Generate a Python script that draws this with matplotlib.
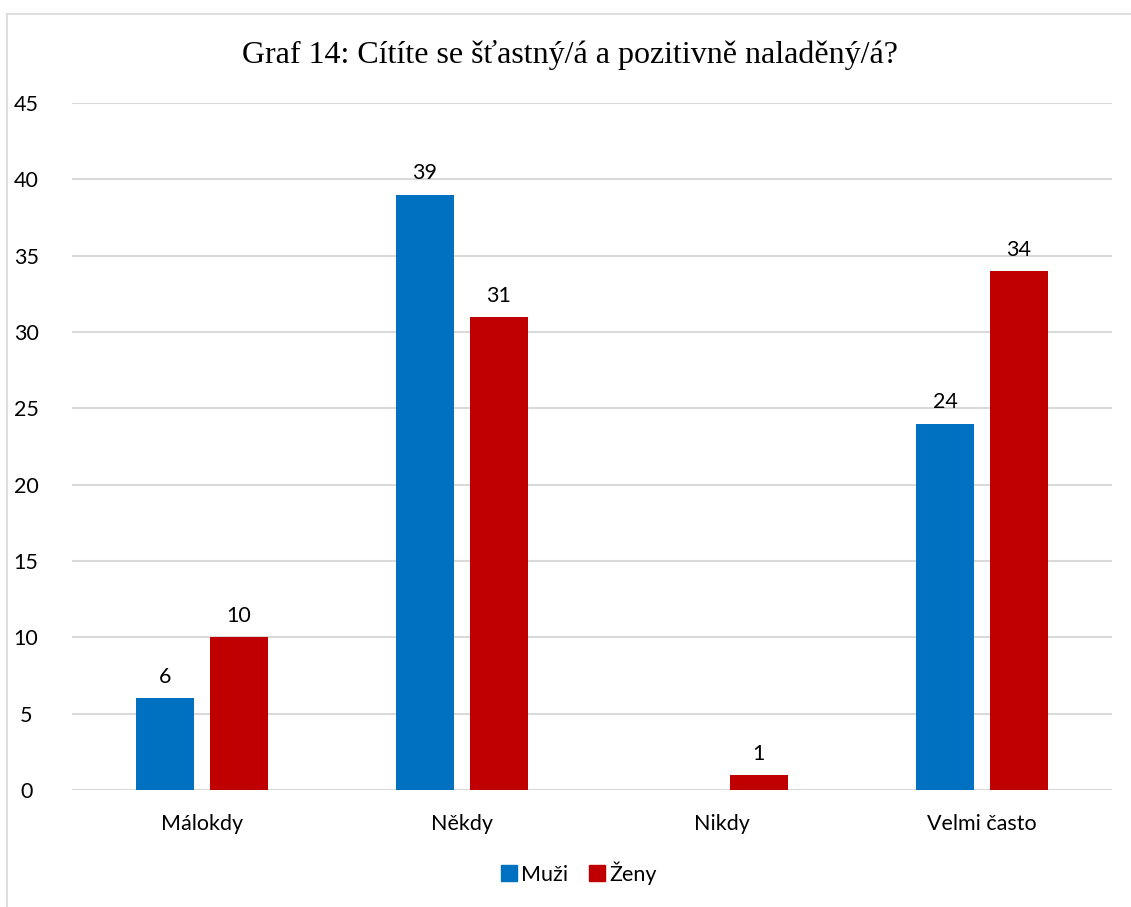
import matplotlib
matplotlib.use("Agg")
import matplotlib.pyplot as plt
from matplotlib.lines import Line2D
import numpy as np

categories = ["Málokdy", "Někdy", "Nikdy", "Velmi často"]
muzi = [6, 39, 0, 24]
zeny = [10, 31, 1, 34]
series_names = ["Muži", "Ženy"]
colors = ["#0070C0", "#C00000"]
title = "Graf 14: Cítíte se šťastný/á a pozitivně naladěný/á?"
yticks = [0, 5, 10, 15, 20, 25, 30, 35, 40, 45]

sans = ["Lato", "DejaVu Sans"]
serif = ["Liberation Serif", "DejaVu Serif"]
fs = 15.5

fig = plt.figure(figsize=(11.31, 9.07), dpi=100)
ax = fig.add_axes([72/1131, 117/907, 1040/1131, 687/907])

x = np.arange(len(categories))
w = 0.223
off = 0.142
b1 = ax.bar(x - off, muzi, w, color=colors[0], label=series_names[0], zorder=3)
b2 = ax.bar(x + off, zeny, w, color=colors[1], label=series_names[1], zorder=3)

for bars, vals in ((b1, muzi), (b2, zeny)):
    for r, v in zip(bars, vals):
        if v == 0:
            continue
        ax.annotate(str(v), (r.get_x() + r.get_width()/2, v), xytext=(0, 8),
                    textcoords="offset points", ha="center", va="bottom",
                    fontsize=fs, family=sans, color="#000000")

ax.set_xlim(-0.5, len(categories) - 0.5)
ax.set_ylim(0, 45)
ax.set_yticks(yticks)
ax.set_yticklabels([str(t) for t in yticks], family=sans, fontsize=fs)
ax.set_xticks(x)
ax.set_xticklabels(categories, family=sans, fontsize=fs)
ax.tick_params(axis="both", length=0, colors="#000000")
ax.tick_params(axis="y", pad=33)
ax.tick_params(axis="x", pad=17)
for lab in ax.get_yticklabels():
    lab.set_horizontalalignment("center")
ax.grid(axis="y", color="#d9d9d9", linewidth=1.5, zorder=0)
for s in ax.spines.values():
    s.set_visible(False)

fig.text(570/1131, 1 - 55/907, title, ha="center", va="center",
         family=serif, fontsize=23, color="#000000")

handles = [Line2D([], [], marker="s", linestyle="none", markersize=11,
                  markerfacecolor=c, markeredgecolor=c) for c in colors]
leg = fig.legend(handles, series_names, loc="center", bbox_to_anchor=(578/1131, 1 - 873/907),
                 ncol=2, frameon=False, prop={"family": sans, "size": fs},
                 handletextpad=0.1, columnspacing=0.9, handlelength=0.9)

# outer chart border
fig.add_artist(Line2D([7/1131, 7/1131], [0, 1 - 14/907], transform=fig.transFigure,
                      color="#d9d9d9", linewidth=1.2))
fig.add_artist(Line2D([7/1131, 1], [1 - 14/907, 1 - 14/907], transform=fig.transFigure,
                      color="#d9d9d9", linewidth=1.2))

fig.savefig("out.png", dpi=100)
